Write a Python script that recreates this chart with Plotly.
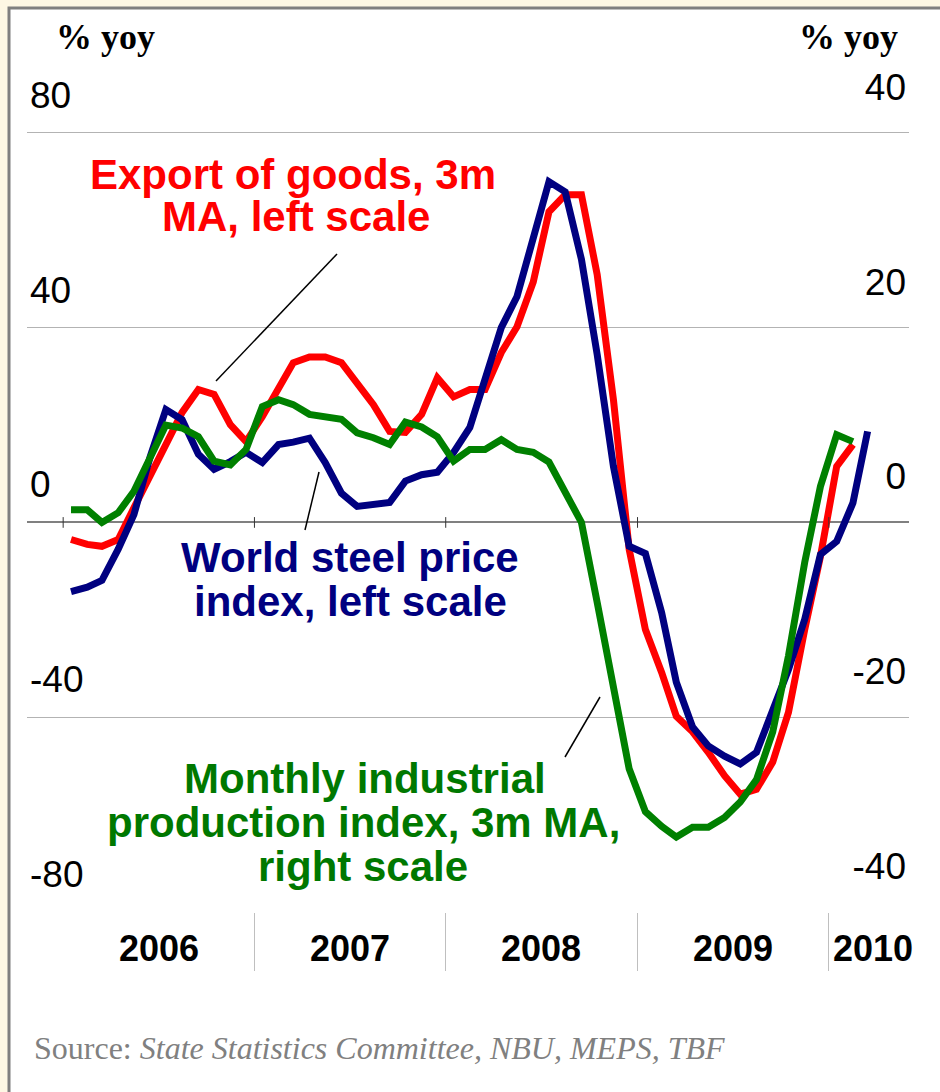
import pandas as pd
import plotly.graph_objects as go

# monthly data, Jan 2006 onwards (% yoy)
steel = [-14.2, -13.3, -11.9, -5.5, 1.6, 13.5, 23.2, 21.1, 14.0, 10.9, 12.5, 14.4,
         12.3, 16.0, 16.5, 17.3, 12.3, 6.0, 3.3, 3.7, 4.1, 8.5, 9.8, 10.3,
         14.4, 19.5, 30.0, 40.0, 46.4, 58.5, 70.0, 67.9, 54.0, 34.5, 11.5, -4.9,
         -6.4, -18.5, -32.8, -42.0, -45.9, -48.0, -49.6, -47.2, -39.0, -30.2, -19.9, -6.6,
         -3.9, 4.0, 18.7]
exports = [-3.5, -4.5, -4.9, -3.5, 3.0, 9.5, 16.0, 22.6, 27.3, 26.3, 20.1, 16.6,
           21.7, 27.3, 32.8, 34.0, 34.0, 32.8, 28.7, 24.2, 18.7, 18.5, 22.2, 29.7,
           25.8, 27.3, 27.3, 34.9, 40.2, 49.4, 63.8, 67.3, 67.3, 50.9, 25.2, -5.5,
           -22.0, -30.8, -39.8, -43.0, -47.2, -52.0, -55.8, -54.8, -49.2, -39.0, -22.0, -7.0,
           11.5, 16.0]
industry = [1.3, 1.3, 0.0, 1.0, 3.2, 6.5, 10.0, 9.7, 8.8, 6.3, 5.9, 7.5,
            11.9, 12.6, 12.1, 11.1, 10.8, 10.6, 9.2, 8.7, 8.0, 10.3, 9.8, 8.8,
            6.3, 7.5, 7.5, 8.5, 7.5, 7.2, 6.2, 3.1, 0.0, -8.2, -17.1, -25.3,
            -29.7, -31.2, -32.3, -31.3, -31.3, -30.3, -28.7, -26.4, -21.5, -13.7, -4.1, 3.7,
            9.0, 8.3]

years = ["2006", "2007", "2008", "2009", "2010"]
year_starts = ["2006-01-01", "2007-01-01", "2008-01-01", "2009-01-01", "2010-01-01"]
year_label_pos = ["2006-07-02", "2007-07-02", "2008-07-01", "2009-07-02", "2010-03-27"]
left_ticks = [-80, -40, 0, 40, 80]
left_text = ["-80", "-40", "0", "40", "80"]
right_ticks = [-40, -20, 0, 20, 40]
right_text = ["-40", "-20", "0", "20", "40"]

export_label = ["Export of goods, 3m", "MA, left scale"]
steel_label = ["World steel price", "index, left scale"]
industry_label = ["Monthly industrial", "production index, 3m MA,", "right scale"]


def months(n):
    return pd.date_range("2006-01-01", periods=n, freq="MS") + pd.Timedelta(days=15)


# plot area in pixels
W, H = 940, 1092
L, R, T, B = 27, 909, 55, 912


def px(x):
    return (x - L) / (R - L)


def py(y):
    return (B - y) / (B - T)


fig = go.Figure()
fig.add_trace(go.Scatter(x=months(len(exports)), y=exports, mode="lines",
                         line=dict(color="#ff0000", width=7)))
fig.add_trace(go.Scatter(x=months(len(industry)), y=industry, mode="lines", yaxis="y2",
                         line=dict(color="#008000", width=7)))
fig.add_trace(go.Scatter(x=months(len(steel)), y=steel, mode="lines",
                         line=dict(color="#000080", width=7)))

sans = "Liberation Sans, Arial, sans-serif"
serif = "Liberation Serif, Times New Roman, serif"

fig.update_layout(
    width=W, height=H,
    margin=dict(l=L, r=W - R, t=T, b=H - B),
    paper_bgcolor="#fdf7e4",
    plot_bgcolor="white",
    showlegend=False,
    xaxis=dict(
        type="date",
        range=["2005-10-24", "2010-06-03"],
        showticklabels=False,
        ticks="", showgrid=False, zeroline=False, showline=False,
        minor=dict(tickvals=year_starts, ticks="outside", ticklen=58,
                   tickcolor="#bfbfbf", tickwidth=1, showgrid=False),
    ),
    yaxis=dict(
        range=[-80, (523 - T) / 4.875],
        tickvals=left_ticks, ticktext=left_text, ticks="", showline=False,
        gridcolor="#b3b3b3", gridwidth=1,
        zeroline=True, zerolinecolor="#808080", zerolinewidth=2,
        ticklabelposition="inside", ticklabelshift=-38,
        tickfont=dict(family=sans, size=37, color="black"),
    ),
    yaxis2=dict(
        overlaying="y", side="right",
        range=[-40, (523 - T) / 9.75],
        tickvals=right_ticks, ticktext=right_text, ticks="", showline=False,
        showgrid=False, zeroline=False,
        ticklabelposition="inside", ticklabelshift=-46,
        tickfont=dict(family=sans, size=37, color="black"),
    ),
)

# white panel with grey frame
fig.add_shape(type="rect", xref="paper", yref="paper",
              x0=px(9), x1=px(980), y0=py(1130), y1=py(8),
              line=dict(color="#7f7f7f", width=3), fillcolor="white", layer="below")

# small marks on the zero line at year boundaries
for d in year_starts:
    fig.add_shape(type="line", xref="x", yref="y", x0=d, x1=d, y0=-1.1, y1=1.1,
                  line=dict(color="#333333", width=1))

# year labels under the axis
for d, yr in zip(year_label_pos, years):
    fig.add_annotation(text=yr, xref="x", yref="paper", x=d, y=py(948),
                       showarrow=False, xanchor="center", yanchor="middle",
                       font=dict(family=sans, size=36, color="black", weight="bold"))

# leader lines
for x0, y0, x1, y1 in [(337, 254, 216, 381), (319, 472, 305, 530), (600, 697, 565, 757)]:
    fig.add_shape(type="line", xref="paper", yref="paper",
                  x0=px(x0), y0=py(y0), x1=px(x1), y1=py(y1),
                  line=dict(color="black", width=1.5))


def label(lines, xs, ys, color):
    for text, x, y in zip(lines, xs, ys):
        fig.add_annotation(text=text, xref="paper", yref="paper", x=px(x), y=py(y),
                           showarrow=False, xanchor="center", yanchor="middle",
                           font=dict(family=sans, size=42, color=color, weight="bold"))


label(export_label, [293, 296], [174, 216], "#ff0000")
label(steel_label, [350, 350], [557, 601], "#000080")
label(industry_label, [365, 363, 363], [778, 822, 866], "#007800")

for x, txt in [(105, "% yoy"), (848, "% yoy")]:
    fig.add_annotation(text=txt, xref="paper", yref="paper", x=px(x), y=py(37),
                       showarrow=False, xanchor="center", yanchor="middle",
                       font=dict(family=serif, size=36, color="black", weight="bold"))

fig.add_annotation(text="Source: <i>State Statistics Committee, NBU, MEPS, TBF</i>",
                   xref="paper", yref="paper", x=px(32), y=py(1048),
                   showarrow=False, xanchor="left", yanchor="middle",
                   font=dict(family=serif, size=32, color="#808080"))

fig.write_html("out.html", config={"displayModeBar": False},
               post_script="document.body.style.margin = '0';")
